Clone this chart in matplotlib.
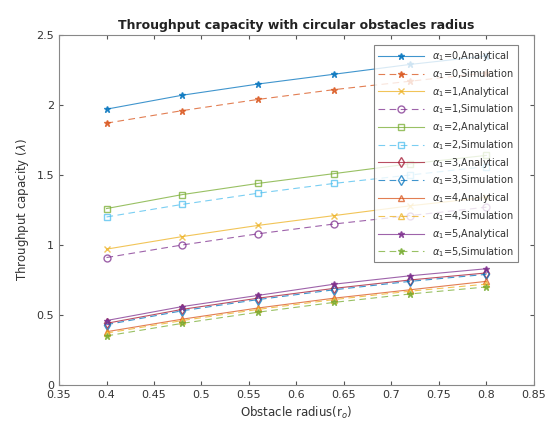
import matplotlib
matplotlib.use("Agg")
import matplotlib.pyplot as plt
import numpy as np

radius = [0.4, 0.48, 0.56, 0.64, 0.72, 0.8]

a0_analytical = [1.97, 2.07, 2.15, 2.22, 2.29, 2.35]
a0_simulation = [1.87, 1.96, 2.04, 2.11, 2.17, 2.23]
a1_analytical = [0.97, 1.06, 1.14, 1.21, 1.28, 1.34]
a1_simulation = [0.91, 1.00, 1.08, 1.15, 1.21, 1.27]
a2_analytical = [1.26, 1.36, 1.44, 1.51, 1.58, 1.64]
a2_simulation = [1.20, 1.29, 1.37, 1.44, 1.50, 1.56]
a3_analytical = [0.44, 0.54, 0.62, 0.69, 0.75, 0.80]
a3_simulation = [0.43, 0.53, 0.61, 0.68, 0.74, 0.79]
a4_analytical = [0.38, 0.47, 0.55, 0.62, 0.68, 0.74]
a4_simulation = [0.37, 0.46, 0.54, 0.61, 0.67, 0.72]
a5_analytical = [0.46, 0.56, 0.64, 0.72, 0.78, 0.83]
a5_simulation = [0.35, 0.44, 0.52, 0.59, 0.65, 0.70]

# matlab default color order
blue = (0.0, 0.447, 0.741)
orange = (0.85, 0.325, 0.098)
yellow = (0.929, 0.694, 0.125)
purple = (0.494, 0.184, 0.556)
green = (0.466, 0.674, 0.188)
cyan = (0.301, 0.745, 0.933)
red = (0.635, 0.078, 0.184)

series = [
    (a0_analytical, "-", "*", blue, 0, "Analytical"),
    (a0_simulation, "--", "*", orange, 0, "Simulation"),
    (a1_analytical, "-", "x", yellow, 1, "Analytical"),
    (a1_simulation, "--", "o", purple, 1, "Simulation"),
    (a2_analytical, "-", "s", green, 2, "Analytical"),
    (a2_simulation, "--", "s", cyan, 2, "Simulation"),
    (a3_analytical, "-", "d", red, 3, "Analytical"),
    (a3_simulation, "--", "d", blue, 3, "Simulation"),
    (a4_analytical, "-", "^", orange, 4, "Analytical"),
    (a4_simulation, "--", "^", yellow, 4, "Simulation"),
    (a5_analytical, "-", "*", purple, 5, "Analytical"),
    (a5_simulation, "--", "*", green, 5, "Simulation"),
]

fig = plt.figure(figsize=(5.49, 4.32), dpi=100)
ax = fig.add_axes([0.1075, 0.109, 0.865, 0.81])

for vals, ls, mk, col, a, kind in series:
    ax.plot(radius, vals, linestyle=ls, marker=mk, color=col, lw=0.8,
            markersize=5, markerfacecolor="none" if mk in "osd^" else col,
            dashes=(6, 4) if ls == "--" else (None, None),
            label=r"$\alpha_1$=%d,%s" % (a, kind), alpha=0.75)

ax.set_xlim(0.35, 0.85)
ax.set_ylim(0, 2.5)
ax.set_xticks(np.arange(0.35, 0.851, 0.05))
ax.set_xticklabels(["0.35", "0.4", "0.45", "0.5", "0.55", "0.6", "0.65",
                    "0.7", "0.75", "0.8", "0.85"])
ax.set_yticks([0, 0.5, 1, 1.5, 2, 2.5])
ax.set_yticklabels(["0", "0.5", "1", "1.5", "2", "2.5"])
ax.tick_params(direction="in", top=True, right=True, labelsize=8,
               colors="#555555", labelcolor="#333333", length=3)
for s in ax.spines.values():
    s.set_color("#888888")
    s.set_linewidth(0.8)

ax.set_title("Throughput capacity with circular obstacles radius",
             fontsize=9, fontweight="bold", color="#222222", pad=4)
ax.set_xlabel(r"Obstacle radius(r$_{o}$)", fontsize=8.5, color="#333333")
ax.set_ylabel(r"Throughput capacity ($\lambda$)", fontsize=8.5, color="#333333")

leg = ax.legend(loc="upper right", bbox_to_anchor=(0.966, 0.971),
                borderaxespad=0, fontsize=7, frameon=True, fancybox=False,
                edgecolor="#666666", handlelength=4.8, labelspacing=0.4)
leg.get_frame().set_linewidth(0.8)
for t in leg.get_texts():
    t.set_color("#333333")

fig.savefig("out.png", dpi=100)
